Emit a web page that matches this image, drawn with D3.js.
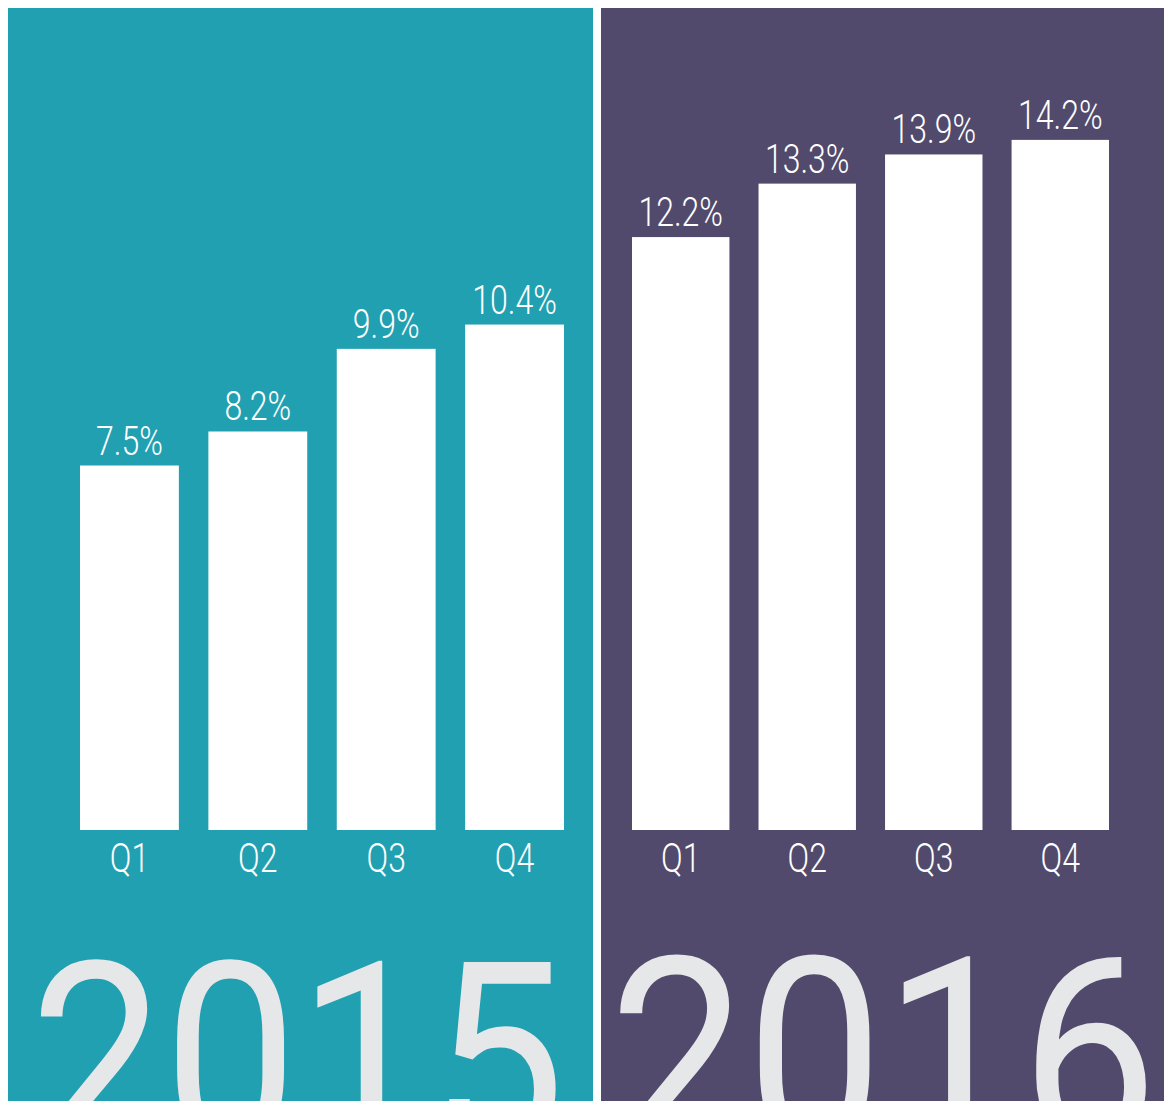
<!DOCTYPE html>
<html>
<head>
<meta charset="utf-8">
<script src="https://cdn.jsdelivr.net/npm/d3@7"></script>
<style>
  body { margin: 0; background: #fff; }
  svg { display: block; }
</style>
</head>
<body>
<script>
// chart data
const years = ["2015", "2016"]
const quarters = ["Q1", "Q2", "Q3", "Q4"]
const values2015 = [7.5, 8.2, 9.9, 10.4]
const values2016 = [12.2, 13.3, 13.9, 14.2]

const width = 1164, height = 1101
const baseY = 830

// one panel per year
const panels = [
  {year: years[0], values: values2015, x: 8, w: 585, fill: "#21A0B1", bars: [80, 564], yearX: 30, yearSize: 238},
  {year: years[1], values: values2016, x: 601, w: 563, fill: "#514A6C", bars: [632, 1109], yearX: 609, yearSize: 244}
]

const svg = d3.select("body")
  .append("svg")
  .attr("width", width)
  .attr("height", height)

/* shared value scale */
const y = d3.scaleLinear()
  .domain([0, 15])
  .range([baseY, baseY - 729])

const fmt = d => d3.format(".1f")(d) + "%"
const labelFont = "Roboto, 'Open Sans', sans-serif"

panels.forEach(p => {
  const g = svg.append("g")

  g.append("rect")
    .attr("x", p.x)
    .attr("y", 8)
    .attr("width", p.w)
    .attr("height", height - 8)
    .attr("fill", p.fill)

  const x = d3.scaleBand()
    .domain(quarters)
    .range(p.bars)
    .paddingInner(0.23)
    .paddingOuter(0)

  const rows = quarters.map((q, i) => ({q: q, v: p.values[i]}))

  g.selectAll("rect.bar")
    .data(rows)
    .enter().append("rect")
    .attr("class", "bar")
    .attr("fill", "#fff")
    .attr("x", d => x(d.q))
    .attr("width", x.bandwidth())
    .attr("y", d => y(d.v))
    .attr("height", d => baseY - y(d.v))

  // value labels, squeezed to look condensed
  g.selectAll("text.val")
    .data(rows)
    .enter().append("text")
    .attr("class", "val")
    .attr("transform", d => `translate(${x(d.q) + x.bandwidth() / 2},${y(d.v) - 11}) scale(0.8,1)`)
    .attr("text-anchor", "middle")
    .attr("fill", "#fff")
    .style("font-family", labelFont)
    .style("font-weight", 300)
    .style("font-size", "40px")
    .text(d => fmt(d.v))

  // category axis, no line or ticks
  const axis = g.append("g")
    .attr("transform", `translate(0,${baseY})`)
    .call(d3.axisBottom(x).tickSize(0).tickPadding(0))
  axis.select(".domain").remove()
  axis.selectAll("text")
    .attr("y", 0)
    .attr("dy", 0)
    .attr("transform", "translate(0,42) scale(0.8,1)")
    .attr("fill", "#fff")
    .style("font-family", labelFont)
    .style("font-weight", 300)
    .style("font-size", "40px")

  // big year at the bottom, cut by the page edge as in the original
  g.append("text")
    .attr("transform", `translate(${p.yearX},1148) scale(1,1.1)`)
    .attr("fill", "#E6E7E8")
    .style("font-family", "Roboto, sans-serif")
    .style("font-weight", 400)
    .style("font-size", p.yearSize + "px")
    .text(p.year)
})
</script>
</body>
</html>
